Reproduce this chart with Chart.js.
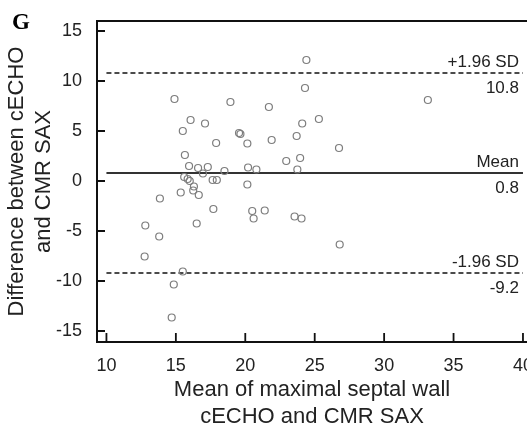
<!DOCTYPE html>
<html>
<head>
<meta charset="utf-8">
<script src="https://cdn.jsdelivr.net/npm/chart.js@4.4.1/dist/chart.umd.min.js"></script>
<style>
  html, body { margin: 0; padding: 0; background: #fff; }
  #wrap { position: relative; width: 527px; height: 431px; }
</style>
</head>
<body>
<div id="wrap"><canvas id="c" width="527" height="431"></canvas></div>
<script>
// mean of the two measurements (x) and their difference (y)
const meanVals = [14.9, 18.93, 21.7, 16.06, 17.1, 15.5, 19.55, 19.65, 17.9, 20.15,
  21.9, 22.95, 15.65, 15.95, 16.6, 17.3, 16.95, 18.5, 20.2, 20.8,
  15.6, 15.85, 16.0, 17.65, 17.95, 16.3, 16.25, 16.65, 15.35, 20.15,
  13.85, 17.7, 20.5, 21.4, 20.6, 16.5, 12.8, 13.8, 12.75, 15.5,
  14.85, 14.7, 24.4, 24.3, 33.15, 25.3, 24.1, 23.7, 26.75, 23.95,
  23.75, 23.55, 24.05, 26.8];
const diffVals = [8.2, 7.9, 7.4, 6.1, 5.75, 5.0, 4.8, 4.7, 3.8, 3.75,
  4.1, 2.0, 2.6, 1.5, 1.3, 1.4, 0.75, 1.0, 1.35, 1.15,
  0.4, 0.2, 0.0, 0.1, 0.1, -0.55, -0.95, -1.4, -1.15, -0.35,
  -1.75, -2.8, -3.0, -2.95, -3.75, -4.25, -4.45, -5.55, -7.55, -9.05,
  -10.35, -13.65, 12.1, 9.3, 8.1, 6.2, 5.75, 4.5, 3.3, 2.3,
  1.15, -3.55, -3.75, -6.35];

// limits of agreement
const refValues = [10.8, 0.8, -9.2];
const refNames = ['+1.96 SD', 'Mean', '-1.96 SD'];
const refValueLabels = ['10.8', '0.8', '-9.2'];

const xTicks = [10, 15, 20, 25, 30, 35, 40];
const yTicks = [-15, -10, -5, 0, 5, 10, 15];
const panelLabel = 'G';

const points = meanVals.map((x, i) => ({ x: x, y: diffVals[i] }));

const refSets = refValues.map((v, i) => ({
  type: 'line',
  data: [{ x: xTicks[0], y: v }, { x: xTicks[xTicks.length - 1], y: v }],
  borderColor: i === 1 ? '#333' : '#111',
  borderWidth: i === 1 ? 2 : 1.6,
  borderDash: i === 1 ? [] : [5, 3],
  pointRadius: 0,
  fill: false
}));

// no extra room for overflowing tick labels
function noPad(s) {
  s.paddingLeft = 0; s.paddingRight = 0; s.paddingTop = 0; s.paddingBottom = 0;
}

// frame, inward ticks, panel letter and line labels
const extras = {
  id: 'extras',
  afterDraw(chart) {
    const ctx = chart.ctx;
    const a = chart.chartArea;
    const xs = chart.scales.x, ys = chart.scales.y;
    ctx.save();
    ctx.strokeStyle = '#111';
    ctx.lineWidth = 2;
    ctx.beginPath();
    ctx.moveTo(a.right, a.top);
    ctx.lineTo(a.left, a.top);
    ctx.lineTo(a.left, a.bottom);
    ctx.lineTo(a.right, a.bottom);
    ctx.stroke();

    ctx.lineWidth = 1.8;
    ctx.beginPath();
    xTicks.forEach(v => {
      const px = xs.getPixelForValue(v);
      ctx.moveTo(px, a.bottom);
      ctx.lineTo(px, a.bottom - 9);
    });
    yTicks.forEach(v => {
      const py = ys.getPixelForValue(v);
      ctx.moveTo(a.left, py);
      ctx.lineTo(a.left + 8, py);
    });
    ctx.stroke();

    ctx.fillStyle = '#222';
    ctx.font = '17px "Liberation Sans", Arial, sans-serif';
    ctx.textAlign = 'right';
    ctx.textBaseline = 'middle';
    const rx = xs.getPixelForValue(xTicks[xTicks.length - 1]) - 4;
    refValues.forEach((v, i) => {
      const py = ys.getPixelForValue(v);
      ctx.fillText(refNames[i], rx, py - 11);
      ctx.fillText(refValueLabels[i], rx, py + 15);
    });

    ctx.fillStyle = '#000';
    ctx.font = 'bold 23px "Liberation Serif", "Times New Roman", serif';
    ctx.textAlign = 'left';
    ctx.fillText(panelLabel, 12, 23);
    ctx.restore();
  }
};

new Chart(document.getElementById('c'), {
  type: 'scatter',
  data: {
    datasets: [{
      data: points,
      pointRadius: 3.5,
      pointBorderWidth: 1.2,
      pointBorderColor: '#7d7d7d',
      pointBackgroundColor: 'rgba(255,255,255,0)'
    }].concat(refSets)
  },
  options: {
    responsive: false,
    animation: false,
    layout: { autoPadding: false, padding: { top: 21, right: 0, bottom: 0, left: 0 } },
    plugins: { legend: { display: false }, tooltip: { enabled: false } },
    scales: {
      x: {
        type: 'linear',
        min: 9.32,
        max: 40.29,
        afterBuildTicks: s => { s.ticks = xTicks.map(v => ({ value: v })); },
        afterFit: s => { s.height = 89; noPad(s); },
        grid: { display: false },
        border: { display: false },
        ticks: { color: '#222', padding: 5, font: { family: '"Liberation Sans", Arial', size: 18 }, maxRotation: 0, autoSkip: false },
        title: {
          display: true,
          text: ['Mean of maximal septal wall', 'cECHO and CMR SAX'],
          color: '#222',
          font: { family: '"Liberation Sans", Arial', size: 22, lineHeight: 1.22 },
          padding: { top: 0, bottom: 1 }
        }
      },
      y: {
        min: -16.1,
        max: 16.0,
        afterBuildTicks: s => { s.ticks = yTicks.map(v => ({ value: v })); },
        afterFit: s => { s.width = 97; noPad(s); },
        grid: { display: false },
        border: { display: false },
        ticks: { color: '#222', padding: 7, font: { family: '"Liberation Sans", Arial', size: 18 } },
        title: {
          display: true,
          text: ['Difference between cECHO', 'and CMR SAX'],
          color: '#222',
          font: { family: '"Liberation Sans", Arial', size: 22, lineHeight: 1.2 },
          padding: { top: 4, bottom: 0 }
        }
      }
    }
  },
  plugins: [extras]
});
</script>
</body>
</html>
